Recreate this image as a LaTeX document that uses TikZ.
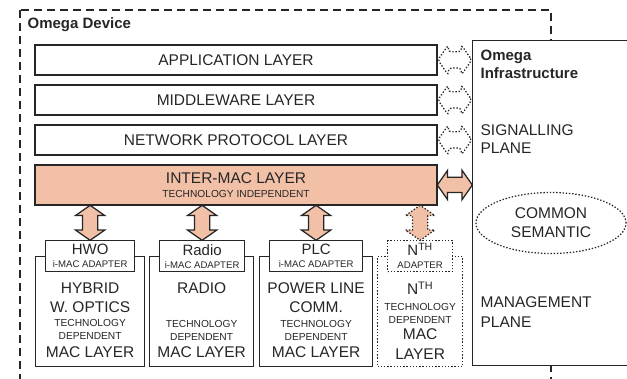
\documentclass[tikz,border=0pt]{standalone}
\usepackage{fontspec}
\setmainfont{Liberation Sans}
\usetikzlibrary{shapes.arrows,shapes.geometric,calc}
\definecolor{salmon}{RGB}{241,192,166}
\definecolor{ink}{RGB}{38,38,38}
\newcommand{\techfont}{\fontsize{10.2}{12}\selectfont}
\newcommand{\adfont}{\fontsize{9.6}{11}\selectfont}

\begin{document}
\begin{tikzpicture}[x=1pt, y=-1pt, line width=1.25pt, color=ink,
    layer/.style = {draw, fill=white, minimum width=402pt, minimum height=30pt,
                    inner sep=0pt, font=\fontsize{15.5}{19}\selectfont},
    macbox/.style = {draw, fill=white, anchor=north west, inner sep=0pt,
                     minimum height=110pt},
    adapter/.style = {draw, fill=white, anchor=north west, inner sep=0pt,
                      minimum height=31pt, align=center,
                      font=\fontsize{15}{13}\selectfont},
    mactext/.style = {anchor=north, inner sep=0pt, align=center,
                      font=\fontsize{15.5}{19}\selectfont},
    plane/.style = {anchor=north west, inner sep=0pt, align=left,
                    font=\fontsize{15.5}{18}\selectfont},
    dots/.style = {dash pattern=on 1.4pt off 1.8pt},
    fatarrow/.style = {shape=double arrow, draw, fill=salmon, inner sep=7pt,
                       minimum width=28pt, double arrow head extend=7pt,
                       double arrow tip angle=110},
  ]
  \useasboundingbox (0,0) rectangle (627,379);

  % device frame
  \draw[dash pattern=on 8pt off 5pt] (20,10) rectangle (551,400);
  \node[anchor=west, inner sep=0pt, font=\bfseries\fontsize{15}{18}\selectfont]
    (devtitle) at (27,25) {Omega Device};

  % layers
  \node[layer] (app) at (236,60) {APPLICATION LAYER};
  \node[layer] (mid) at (236,100) {MIDDLEWARE LAYER};
  \node[layer] (net) at (236,140) {NETWORK PROTOCOL LAYER};
  \node[layer, fill=salmon, minimum height=40pt, align=center] (inter) at (236,185)
    {INTER-MAC LAYER\\[-4.8pt]{\techfont TECHNOLOGY INDEPENDENT}};

  % infrastructure
  \node[draw, fill=white, anchor=north west, minimum width=180pt,
        minimum height=325pt] (infra) at (472,40) {};
  \node[plane, font=\bfseries\fontsize{15}{18}\selectfont] (infratitle) at (480,49.5)
    {Omega\\Infrastructure};
  \node[plane] (signal) at (480,124.5) {SIGNALLING\\PLANE};
  \node[ellipse, draw, dots, minimum width=150pt, minimum height=61pt, inner sep=0pt,
        align=center, font=\fontsize{15.5}{19}\selectfont] (sem) at (551,223)
    {COMMON\\SEMANTIC};
  \node[plane, font=\fontsize{15.5}{20}\selectfont] (mgmt) at (480,296.5)
    {MANAGEMENT\\PLANE};

  % layer <-> infrastructure
  \foreach \l in {app,mid,net}
    \node[fatarrow, fill=white, dots, rounded corners=3pt, minimum height=34pt,
          inner sep=7.5pt, minimum width=30pt]
      (\l arr) at ($(\l.east)!0.5!(\l.east -| infra.west)$) {};
  \node[fatarrow, minimum height=35pt] (interarr)
    at ($(inter.east)!0.5!(inter.east -| infra.west)$) {};

  % mac layers
  \node[macbox, minimum width=109pt] (hwo) at (35,256) {};
  \node[adapter, minimum width=89pt] (hwoad) at (45,240)
    {HWO\\{\adfont i-MAC ADAPTER}};
  \node[mactext] (hwotxt) at ($(hwo.north)+(0,26.5)$)
    {HYBRID\\W. OPTICS\\[-4.8pt]{\techfont TECHNOLOGY}\\[-6pt]{\techfont DEPENDENT}\\[-1.2pt]MAC LAYER};

  \node[macbox, minimum width=104pt] (radio) at (149,256) {};
  \node[adapter, minimum width=85pt] (radioad) at (159,240)
    {Radio\\{\adfont i-MAC ADAPTER}};
  \node[mactext] (radiotxt) at ($(radio.north)+(0,26.5)$)
    {RADIO\\[14.2pt]{\techfont TECHNOLOGY}\\[-6pt]{\techfont DEPENDENT}\\[-1.2pt]MAC LAYER};

  \node[macbox, minimum width=113pt] (plc) at (259,256) {};
  \node[adapter, minimum width=93pt] (plcad) at (269,240)
    {PLC\\{\adfont i-MAC ADAPTER}};
  \node[mactext] (plctxt) at ($(plc.north)+(0,26.5)$)
    {POWER LINE\\COMM.\\[-4.8pt]{\techfont TECHNOLOGY}\\[-6pt]{\techfont DEPENDENT}\\[-1.2pt]MAC LAYER};

  \node[macbox, dots, minimum width=85pt] (nth) at (377,256) {};
  \node[adapter, dots, minimum width=65pt] (nthad) at (387,240)
    {N\textsuperscript{TH}\\{\adfont ADAPTER}};
  \node[mactext] (nthtxt) at ($(nth.north)+(0,25.5)$)
    {N\textsuperscript{TH}\\[-3.8pt]{\techfont TECHNOLOGY}\\[-6pt]{\techfont DEPENDENT}\\[-2.2pt]MAC\\[1pt]LAYER};

  % inter-mac <-> adapters
  \foreach \a in {hwoad,radioad,plcad}
    \node[fatarrow, shape border rotate=90, minimum height=35pt] (\a arr)
      at ($(\a.north |- inter.south)!0.5!(\a.north)$) {};
  \node[fatarrow, dots, shape border rotate=90, minimum height=35pt] (nthadarr)
    at ($(nthad.north |- inter.south)!0.5!(nthad.north)$) {};
\end{tikzpicture}
\end{document}
